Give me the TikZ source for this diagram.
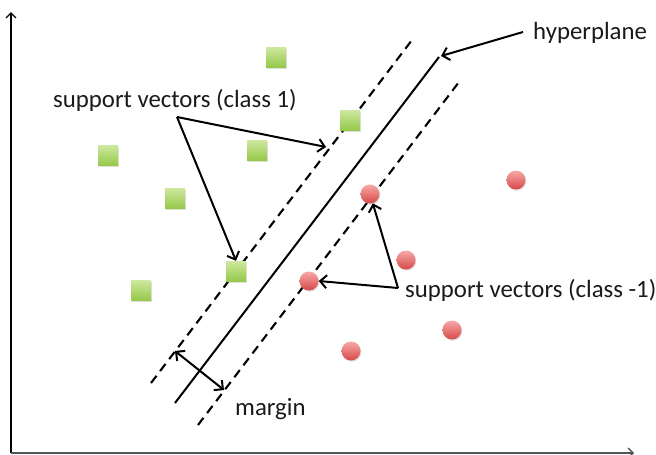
\documentclass[tikz,border=0pt]{standalone}
\usepackage{fontspec}
\setmainfont{Carlito}
\usetikzlibrary{arrows.meta,shadows}
\definecolor{gtop}{HTML}{CFE8A0}
\definecolor{gbot}{HTML}{95C94A}
\definecolor{rtop}{HTML}{F7A9A9}
\definecolor{rbot}{HTML}{D84848}
\definecolor{axisgray}{HTML}{555555}
\definecolor{txt}{HTML}{1A1A1A}
\begin{document}
\begin{tikzpicture}[x=1pt,y=-1pt,
  sq/.style={draw=none, minimum size=20pt, inner sep=0pt, top color=gtop, bottom color=gbot,
    drop shadow={shadow xshift=1pt, shadow yshift=-1.5pt, opacity=0.25}},
  dot/.style={circle, draw=none, minimum size=19pt, inner sep=0pt, top color=rtop, bottom color=rbot,
    drop shadow={shadow xshift=0.8pt, shadow yshift=-1.2pt, opacity=0.25}},
  lbl/.style={inner sep=0pt, anchor=base west, text=txt, font=\fontsize{24.8}{29}\selectfont},
  tip/.style={-{Straight Barb[length=6.5pt,width=13pt,line width=2pt]}},
  solidline/.style={line width=2pt},
  dashline/.style={line width=2.1pt, dash pattern=on 9pt off 6pt},
  axisline/.style={line width=1.4pt, -{Straight Barb[length=5pt,width=10pt]}},
]
\useasboundingbox (0,0) rectangle (656,455);

% axes
\coordinate (o) at (11,453);
\coordinate (yend) at (11,12);
\coordinate (xend) at (634,453);
\draw[axisline] (o) -- (yend);
\draw[axisline, draw=axisgray] (o) -- (xend);

% hyperplane and margins (drawn below the points)
\coordinate (hA) at (175,403);
\coordinate (hB) at (439,57);
\coordinate (uA) at (151,383);
\coordinate (uB) at (412,40);
\coordinate (lA) at (198,425);
\coordinate (lB) at (459,82);
\draw[solidline] (hA) -- (hB);
\draw[dashline] (uA) -- (uB);
\draw[dashline] (lA) -- (lB);

% class 1 squares
\node[sq] (s1) at (276,57) {};
\node[sq] (s2) at (108,155) {};
\node[sq] (s3) at (175,198) {};
\node[sq] (s4) at (257,150) {};
\node[sq] (s5) at (350,120) {};
\node[sq] (s6) at (236,271) {};
\node[sq] (s7) at (141,290) {};

% class -1 circles
\node[dot] (r1) at (370,194) {};
\node[dot] (r2) at (516,180) {};
\node[dot] (r3) at (406,260) {};
\node[dot] (r4) at (309,281) {};
\node[dot] (r5) at (452,330) {};
\node[dot] (r6) at (351,351) {};

% labels
\node[lbl] (hyp) at (533,39) {hyperplane};
\node[lbl] (sv1) at (53,107) {support vectors (class 1)};
\node[lbl] (sv2) at (405,297) {support vectors (class -1)};
\node[lbl] (mrg) at (235,415) {margin};

% label connectors
\coordinate (hypT) at (523,32);
\draw[solidline, tip] (hypT) -- (441,56);

\coordinate (c1) at (177,117);
\coordinate (d1hit) at (326,147);
\draw[solidline, tip] (c1) -- (d1hit);
\draw[solidline, tip] (c1) -- (s6.north);

\coordinate (c2) at (398,288);
\draw[solidline, tip] (c2) -- (r4.east);
\draw[solidline, tip] (c2) -- (r1);

% margin arrow
\coordinate (m1) at (175,351);
\coordinate (m2) at (224,390);
\draw[solidline, {Straight Barb[length=6.5pt,width=13pt,line width=2pt]}-{Straight Barb[length=6.5pt,width=13pt,line width=2pt]}] (m1) -- (m2);
\end{tikzpicture}
\end{document}
